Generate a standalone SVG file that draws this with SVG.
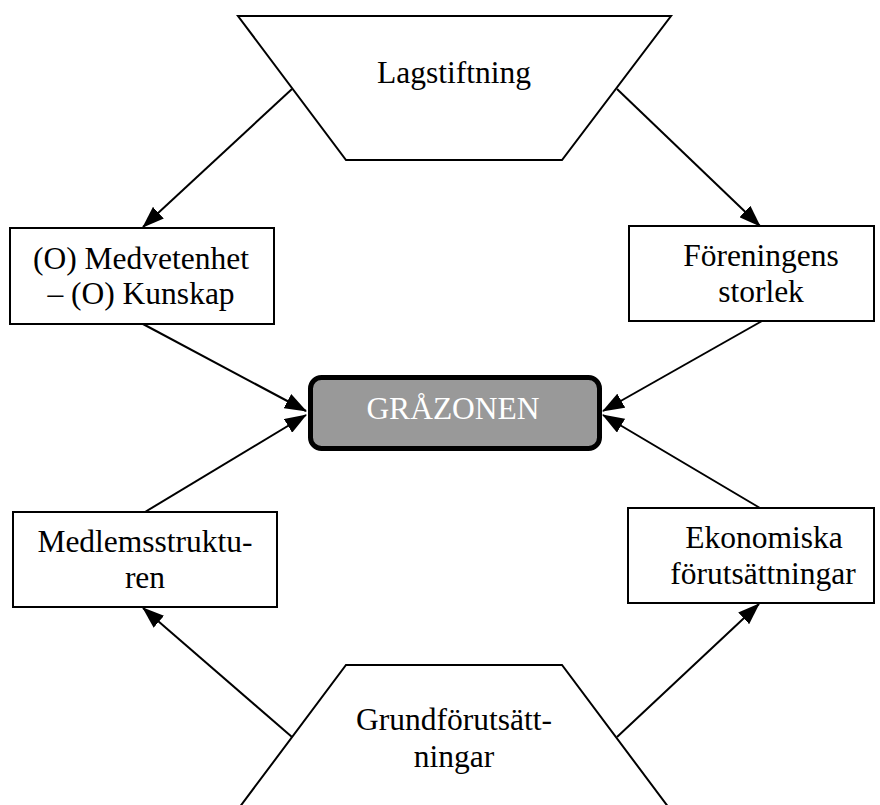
<svg xmlns="http://www.w3.org/2000/svg" width="880" height="805" viewBox="0 0 880 805">
<style>
.shape{fill:#fff;stroke:#000;stroke-width:2}
.t{font-family:"Liberation Serif","Times New Roman",serif;font-size:31.5px;fill:#000;text-anchor:middle}
.c{stroke:#000;stroke-width:2;fill:none;marker-end:url(#ah)}
</style>
<defs>
<marker id="ah" markerUnits="userSpaceOnUse" markerWidth="22" markerHeight="16" viewBox="0 0 22 16" refX="21" refY="8" orient="auto">
<path d="M0,0 L22,8 L0,16 Z" fill="#000"/>
</marker>
</defs>
<rect width="880" height="805" fill="#fff"/>
<g id="connectors">
<line class="c" x1="292" y1="89" x2="143" y2="227"/>
<line class="c" x1="617" y1="89" x2="760" y2="226"/>
<line class="c" x1="143" y1="324" x2="306" y2="411"/>
<line class="c" x1="145" y1="512" x2="306" y2="415"/>
<line class="c" x1="762" y1="321" x2="603" y2="411"/>
<line class="c" x1="760" y1="508" x2="603" y2="415"/>
<line class="c" x1="292" y1="737" x2="143" y2="608"/>
<line class="c" x1="617" y1="737" x2="759" y2="604"/>
</g>
<g id="lagstiftning">
<polygon class="shape" points="238,16 671,16 562,160 346,160"/>
<text class="t" x="454" y="83">Lagstiftning</text>
</g>
<g id="medvetenhet">
<rect class="shape" x="10" y="228" width="264" height="96"/>
<text class="t" x="141" y="269">(O) Medvetenhet</text>
<text class="t" x="141" y="304">– (O) Kunskap</text>
</g>
<g id="foreningens">
<rect class="shape" x="629" y="226" width="245" height="95"/>
<text class="t" x="761" y="266">Föreningens</text>
<text class="t" x="761" y="302">storlek</text>
</g>
<g id="grazonen">
<rect x="310.5" y="377.5" width="289" height="71" rx="11" fill="#999" stroke="#000" stroke-width="5"/>
<text class="t" x="453" y="419" fill="#fff" style="fill:#fff">GRÅZONEN</text>
</g>
<g id="medlemsstrukturen">
<rect class="shape" x="13" y="512" width="264" height="95"/>
<text class="t" x="145" y="552">Medlemsstruktu-</text>
<text class="t" x="145" y="588">ren</text>
</g>
<g id="ekonomiska">
<rect class="shape" x="628" y="508" width="246" height="95"/>
<text class="t" x="764" y="548">Ekonomiska</text>
<text class="t" x="763" y="584">förutsättningar</text>
</g>
<g id="grundforutsattningar">
<polygon class="shape" points="346,665 562,665 672,812 236,812"/>
<text class="t" x="454" y="730">Grundförutsätt-</text>
<text class="t" x="454" y="767">ningar</text>
</g>
</svg>
